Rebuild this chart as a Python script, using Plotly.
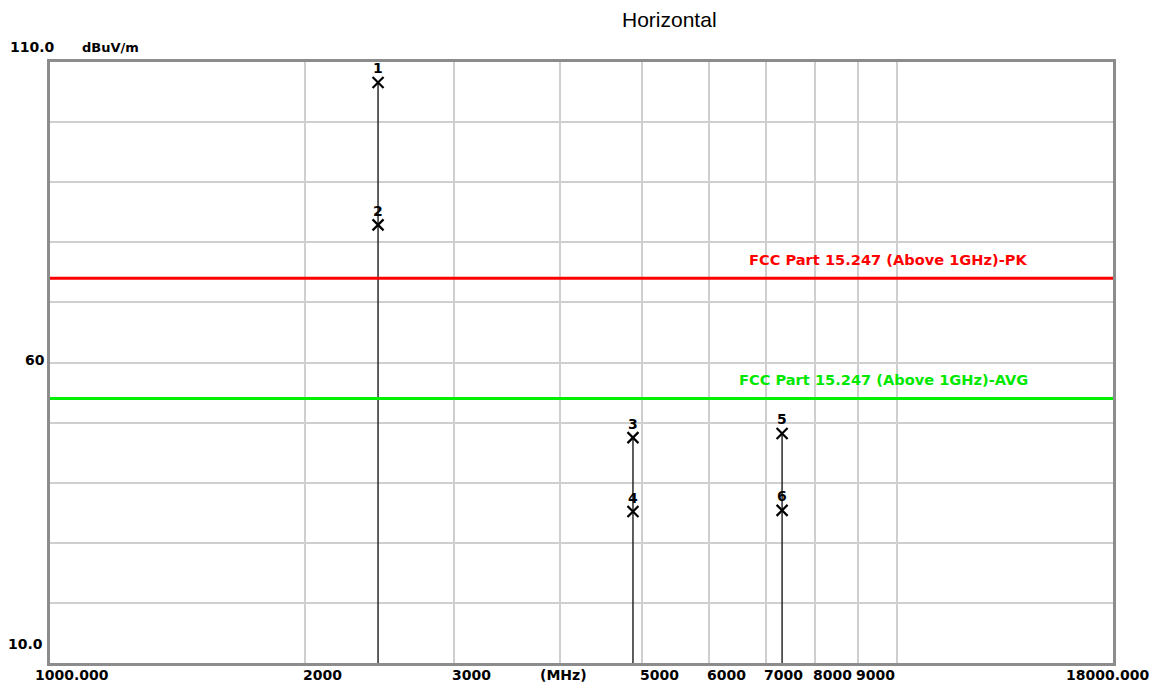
import math
import plotly.graph_objects as go

# ---- data ----
marker_ids = ["1", "2", "3", "4", "5", "6"]
marker_freq = [2440, 2440, 4880, 4880, 7320, 7320]      # MHz
marker_level = [106.6, 82.9, 47.5, 35.2, 48.2, 35.4]    # dBuV/m

limit_names = ["FCC Part 15.247 (Above 1GHz)-PK", "FCC Part 15.247 (Above 1GHz)-AVG"]
limit_values = [74, 54]
limit_colors = ["#ff0000", "#00f000"]

x_grid = [2000, 3000, 4000, 5000, 6000, 7000, 8000, 9000, 10000]
x_tick_vals = [2000, 3000, 5000, 6000, 7000, 8000, 9000]
x_tick_text = ["2000", "3000", "5000", "6000", "7000", "8000", "9000"]
y_grid = [20, 30, 40, 50, 60, 70, 80, 90, 100]

f_min, f_max = 1000, 18000
y_min, y_max = 10, 110

# page has an 8px body margin: compensate
OFF = 8
fig_w, fig_h = 1157 - OFF, 689 - OFF
P_L, P_R, P_T, P_B = 50, 1113, 62, 663          # plot area in page pixels
ml, mt = P_L - OFF, P_T - OFF
mr = fig_w - (P_R - OFF)
mb = fig_h - (P_B - OFF)

FONT = "DejaVu Sans, Verdana"

fig = go.Figure()

# vertical stems: one per frequency, from floor to highest reading
stems = {}
for f, v in zip(marker_freq, marker_level):
    stems[f] = max(stems.get(f, y_min), v)
for f, v in stems.items():
    fig.add_trace(go.Scatter(x=[f, f], y=[y_min, v], mode="lines",
                             line=dict(color="#2a2a2a", width=1.5),
                             hoverinfo="skip", showlegend=False))

# limit lines
for name, val, col in zip(limit_names, limit_values, limit_colors):
    fig.add_trace(go.Scatter(x=[f_min, f_max], y=[val, val], mode="lines",
                             line=dict(color=col, width=3), name=name,
                             showlegend=False))

# markers
fig.add_trace(go.Scatter(x=marker_freq, y=marker_level, mode="markers",
                         marker=dict(symbol="x-thin", size=11,
                                     line=dict(color="black", width=2.2)),
                         showlegend=False))


def px(xp, yp, text, anchor="center", size=14, color="black", bold=True, family=FONT):
    return dict(x=(xp - P_L) / (P_R - P_L), y=1 - (yp - P_T) / (P_B - P_T),
                xref="paper", yref="paper", text=("<b>%s</b>" % text) if bold else text,
                showarrow=False, xanchor=anchor, yanchor="middle",
                font=dict(family=family, size=size, color=color))


annotations = []
# marker numbers
for mid, f, v in zip(marker_ids, marker_freq, marker_level):
    annotations.append(dict(x=math.log10(f), y=v, xref="x", yref="y", text="<b>%s</b>" % mid,
                            showarrow=False, xanchor="center", yanchor="middle", yshift=14,
                            font=dict(family=FONT, size=14, color="black")))

# limit labels
lim_label_x = [747, 737]
lim_text_colors = ["#ff0000", "#00e800"]
for name, val, col, lx in zip(limit_names, limit_values, lim_text_colors, lim_label_x):
    annotations.append(dict(x=(lx - P_L) / (P_R - P_L), y=val, xref="paper", yref="y",
                            text="<b>%s</b>" % name, showarrow=False,
                            xanchor="left", yanchor="middle", yshift=19,
                            font=dict(family=FONT, size=14.6, color=col)))

annotations.append(px(8, 47, "110.0", "left"))
annotations.append(px(80, 47, "dBuV/m", "left", size=13))
annotations.append(px(47, 360, "60", "right"))
annotations.append(px(45, 644, "10.0", "right"))
annotations.append(px(72, 675, "1000.000", "center"))
annotations.append(px(1152, 675, "18000.000", "right"))
annotations.append(px(563, 675, "(MHz)", "center"))
annotations.append(px(669, 19, "Horizontal", "center", size=21, bold=False,
                      family="Liberation Sans, Arial"))
for v, t in zip(x_tick_vals, x_tick_text):
    annotations.append(dict(x=math.log10(v), y=0, xref="x", yref="paper", text="<b>%s</b>" % t,
                            showarrow=False, xanchor="left", yanchor="middle", yshift=-12, xshift=-4,
                            font=dict(family=FONT, size=14, color="black")))

fig.update_layout(
    width=fig_w, height=fig_h,
    margin=dict(l=ml, r=mr, t=mt, b=mb),
    paper_bgcolor="white", plot_bgcolor="white",
    annotations=annotations,
    xaxis=dict(type="log", range=[math.log10(f_min), math.log10(f_max)],
               tickvals=x_grid, showticklabels=False, ticks="",
               showgrid=True, gridcolor="#cfcfcf", gridwidth=1.5,
               showline=True, mirror=True, linecolor="#8c8c8c", linewidth=2.5,
               zeroline=False),
    yaxis=dict(range=[y_min, y_max], tickvals=y_grid, showticklabels=False, ticks="",
               showgrid=True, gridcolor="#cfcfcf", gridwidth=1.5,
               showline=True, mirror=True, linecolor="#8c8c8c", linewidth=2.5,
               zeroline=False),
)

fig.write_html("out.html")
